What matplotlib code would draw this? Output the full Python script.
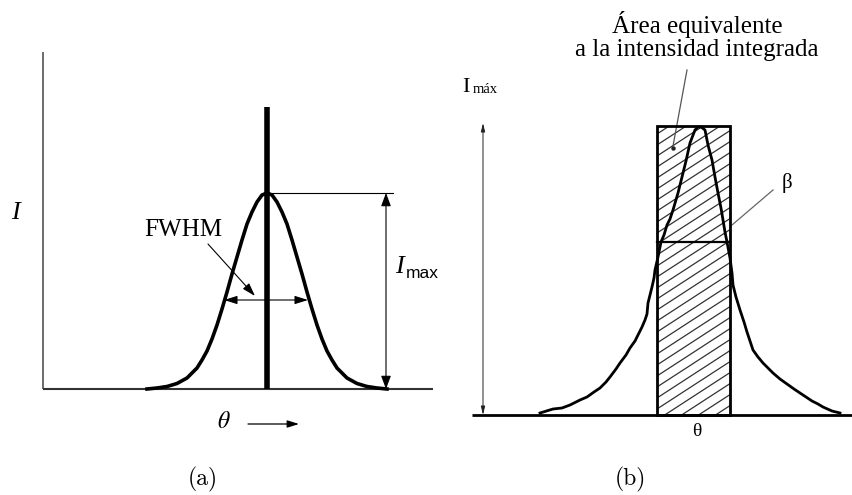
import matplotlib
matplotlib.use("Agg")
import numpy as np
import matplotlib.pyplot as plt
from matplotlib.patches import Rectangle

# (a) ideal line profile: offset from the peak position vs intensity
theta_a = [-120, -110, -100, -90, -80, -70, -65, -60, -55, -50, -45, -40, -35, -30,
           -25, -20, -15, -10, -5, 0, 5, 10, 15, 20, 25, 30, 35, 40, 45, 50, 55, 60,
           65, 70, 80, 90, 100, 110, 120]
inten_a = [0, 1, 2.5, 5.5, 11, 21, 29, 38, 50, 64, 80, 97, 115, 132,
           149, 165, 177, 187, 194, 196, 194, 187, 177, 165, 149, 132, 115, 97, 80, 64, 50, 38,
           29, 21, 11, 5.5, 2.5, 1, 0]
peak_a = 196          # I_max
fwhm_level_a = 89
fwhm_edges_a = [-43, 41]
stick_height_a = 282

# (b) measured profile and the equivalent-area rectangle
theta_b = [-158, -145, -136, -128, -118, -111, -104, -98, -92, -88, -82, -78, -72, -68,
           -63, -60, -56, -53, -51, -50, -48, -46, -44, -43, -40, -37, -34, -31, -28,
           -25, -20, -16, -12, -8, -3, 0, 3, 7, 10, 14, 17, 20, 23, 25, 27, 29, 32, 34,
           35, 38, 42, 46, 49, 52, 55, 60, 65, 70, 75, 82, 89, 96, 102, 108, 114, 120,
           125, 134, 142]
inten_b = [2, 6, 7, 10, 15, 18, 23, 27, 33, 38, 46, 52, 60, 67,
           74, 80, 88, 95, 101, 112, 120, 128, 137, 145, 158, 173, 180, 190, 196,
           205, 222, 238, 254, 272, 285, 288, 288, 285, 270, 255, 238, 222, 207, 195, 183, 173, 157, 142,
           130, 118, 105, 93, 83, 74, 65, 58, 52, 47, 42, 36, 31, 26, 22, 18, 14, 11,
           8, 4, 2]
rect_left, rect_right = -41, 32
rect_height = 289
beta_level = 173

W, H = 853, 495
fig = plt.figure(figsize=(W / 100, H / 100), dpi=100)
serif = "Liberation Serif"

# ---------- panel (a) ----------
ax = fig.add_axes([0, 0, 440 / W, 1])
ax.set_xlim(-267, 173)
ax.set_ylim(-106, 389)
ax.axis("off")

ax.plot([-224, -224], [0, 337], color="#444444", lw=1.1, solid_capstyle="butt")
ax.plot([-224, 166], [0, 0], color="#333333", lw=1.5, solid_capstyle="butt")
ax.plot(theta_a, inten_a, color="black", lw=2.6, solid_joinstyle="round")
ax.plot([0, 0], [0, stick_height_a], color="black", lw=4.0, solid_capstyle="butt")
ax.plot([0, 126], [peak_a, peak_a], color="black", lw=0.8)

ax.annotate("", xy=(119, peak_a), xytext=(119, 0),
            arrowprops=dict(arrowstyle="<|-|>,head_length=0.8,head_width=0.3",
                            color="black", lw=0.8, shrinkA=0, shrinkB=0))
ax.annotate("", xy=(fwhm_edges_a[1], fwhm_level_a), xytext=(fwhm_edges_a[0], fwhm_level_a),
            arrowprops=dict(arrowstyle="<|-|>,head_length=0.8,head_width=0.25",
                            color="black", lw=0.8, shrinkA=0, shrinkB=0))
ax.annotate("", xy=(-12, 93), xytext=(-59, 145),
            arrowprops=dict(arrowstyle="-|>,head_length=0.8,head_width=0.25",
                            color="black", lw=0.8, shrinkA=0, shrinkB=0))
ax.text(-84, 159, "FWHM", family=serif, fontsize=18, ha="center", va="center")
ax.text(-252, 176, "I", family=serif, style="italic", fontsize=19, ha="center", va="center")
ax.text(132, 116, "I", family=serif, style="italic", fontsize=19, ha="center", va="baseline")
ax.text(139, 111, "max", family="Liberation Sans", fontsize=12.5, ha="left", va="baseline")

ax.text(-43, -32, r"$\theta$", fontsize=17, ha="center", va="center",
        math_fontfamily="stix")
ax.annotate("", xy=(32, -35), xytext=(-19, -35),
            arrowprops=dict(arrowstyle="-|>,head_length=0.7,head_width=0.22",
                            color="black", lw=0.9, shrinkA=0, shrinkB=0))
ax.text(-64, -90, "(a)", family="cmr10", fontsize=17, ha="center", va="center")

# ---------- panel (b) ----------
bx = fig.add_axes([440 / W, 0, 413 / W, 1])
bx.set_xlim(-258, 155)
bx.set_ylim(-80, 415)
bx.axis("off")

rect = Rectangle((rect_left, 0), rect_right - rect_left, rect_height,
                 facecolor="none", edgecolor="black", lw=2.0, zorder=4)
bx.add_patch(rect)

# diagonal hatching inside the rectangle
slope = np.tan(np.radians(33))
for c in np.arange(-60, rect_height + 11, 11):
    hl, = bx.plot([rect_left, rect_right],
                  [c, c + slope * (rect_right - rect_left)],
                  color="#333333", lw=0.9, zorder=2)
    hl.set_clip_path(rect)

bx.plot([-226, 155], [0, 0], color="black", lw=2.0, solid_capstyle="butt", zorder=5)
bx.plot(theta_b, inten_b, color="black", lw=2.0, solid_joinstyle="round", zorder=3)
bx.plot([rect_left, rect_right], [beta_level, beta_level], color="black", lw=1.6, zorder=4)

bx.annotate("", xy=(-215, 292), xytext=(-215, 0),
            arrowprops=dict(arrowstyle="<|-|>,head_length=0.5,head_width=0.12",
                            color="#222222", lw=0.7, shrinkA=0, shrinkB=0))
bx.text(-232, 323, "I", family=serif, fontsize=16, ha="center", va="baseline")
bx.text(-225, 322, "máx", family=serif, fontsize=10.5, ha="left", va="baseline")

bx.plot([75, 34], [225, 190], color="#666666", lw=0.9)
bx.text(89, 232, "β", family=serif, fontsize=15, ha="center", va="center")

bx.plot([-11, -25], [345, 269], color="#555555", lw=0.9)
bx.plot([-25], [267], marker="o", ms=2.2, color="#222222")
bx.text(-1, 379, "Área equivalente\na la intensidad integrada", family=serif,
        fontsize=18, ha="center", va="center", multialignment="center", linespacing=1.05)

bx.text(-1, -17, "θ", family=serif, fontsize=14, ha="center", va="center")
bx.text(-68, -64, "(b)", family="cmr10", fontsize=17, ha="center", va="center")

fig.savefig("out.png", dpi=100, facecolor="white")
